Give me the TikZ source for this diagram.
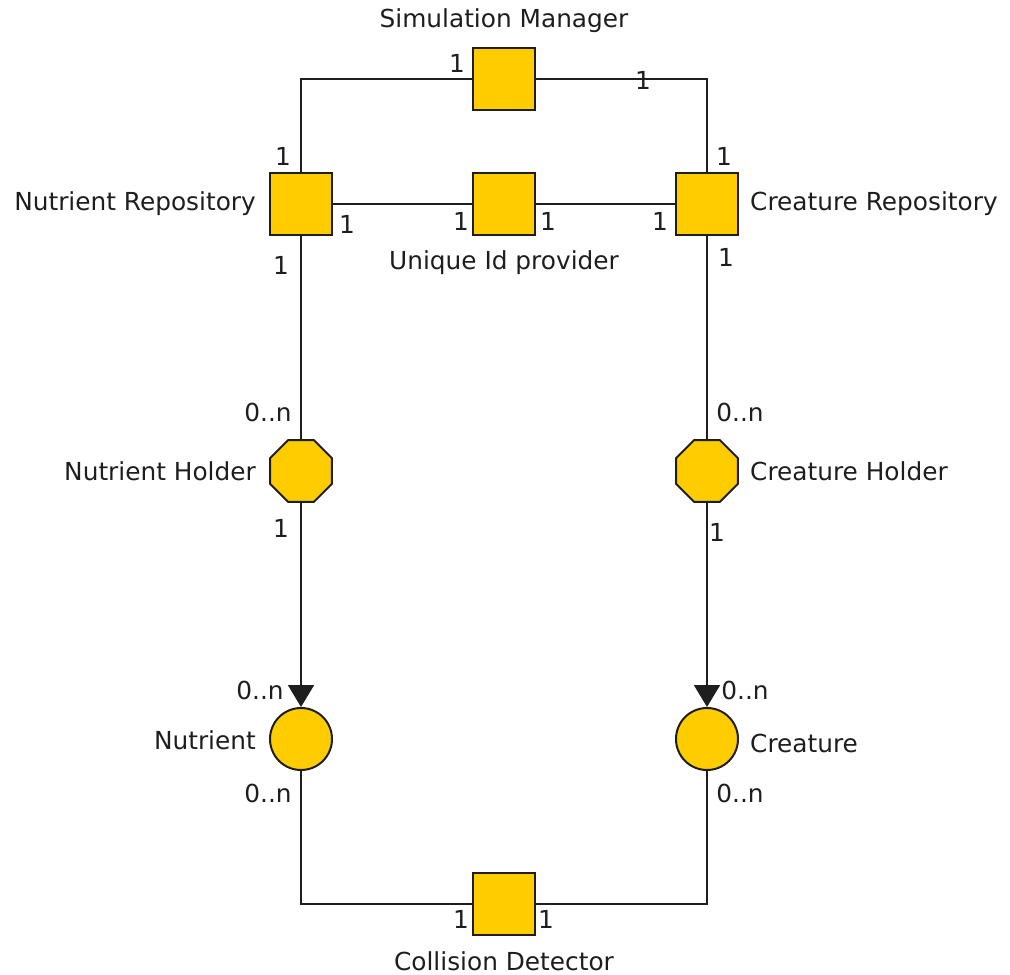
\documentclass[tikz,border=0pt]{standalone}
\usepackage{fontspec}
\setmainfont{DejaVu Sans}
\usetikzlibrary{shapes.geometric,arrows.meta}
\definecolor{gold}{RGB}{255,204,0}
\definecolor{ink}{RGB}{30,30,30}
\begin{document}
\begin{tikzpicture}[x=1pt,y=-1pt,
  every node/.style={font=\fontsize{24.8}{29}\selectfont, text=ink, inner sep=0pt},
  sq/.style={draw=ink, fill=gold, line width=2pt, minimum size=62pt, rectangle},
  octo/.style={draw=ink, fill=gold, line width=2pt, regular polygon, regular polygon sides=8, minimum size=67pt},
  circ/.style={draw=ink, fill=gold, line width=2pt, circle, minimum size=62pt},
  conn/.style={draw=ink, line width=2pt},
  arr/.style={conn, -{Triangle[width=26pt,length=22pt]}}
]
\useasboundingbox (0,0) rectangle (1010,975);
% nodes
\node[sq] (SM) at (504,79) {};
\node[sq] (NR) at (301,204) {};
\node[sq] (UID) at (504,204) {};
\node[sq] (CR) at (707,204) {};
\node[octo] (NH) at (301,471) {};
\node[octo] (CH) at (707,471) {};
\node[circ] (N) at (301,739) {};
\node[circ] (C) at (707,739) {};
\node[sq] (CD) at (504,904) {};
% connectors
\draw[conn] (SM.west) -| (NR.north);
\draw[conn] (SM.east) -| (CR.north);
\draw[conn] (NR.east) -- (UID.west);
\draw[conn] (UID.east) -- (CR.west);
\draw[conn] (NR.south) -- (NH.north);
\draw[conn] (CR.south) -- (CH.north);
\draw[arr] (NH.south) -- (N.north);
\draw[arr] (CH.south) -- (C.north);
\draw[conn] (N.south) |- (CD.west);
\draw[conn] (C.south) |- (CD.east);
% names
\node (tSM) at (504,21) {Simulation Manager};
\node[anchor=east] (tNR) at (256,204) {Nutrient Repository};
\node (tUID) at (504,263) {Unique Id provider};
\node[anchor=west] (tCR) at (750,204) {Creature Repository};
\node[anchor=east] (tNH) at (256,471) {Nutrient Holder};
\node[anchor=west] (tCH) at (750,471) {Creature Holder};
\node[anchor=east] (tN) at (256,740) {Nutrient};
\node[anchor=west] (tC) at (750,743) {Creature};
\node (tCD) at (504,961) {Collision Detector};
% multiplicities
\node (m1) at (457,63) {1};
\node (m2) at (643,80) {1};
\node (m3) at (283,156) {1};
\node (m4) at (347,224) {1};
\node (m5) at (281,265) {1};
\node (m6) at (461,221) {1};
\node (m7) at (548,221) {1};
\node (m8) at (660,221) {1};
\node (m9) at (724,156) {1};
\node (m10) at (726,257) {1};
\node (m11) at (268,412) {0..n};
\node (m12) at (281,528) {1};
\node (m13) at (740,412) {0..n};
\node (m14) at (717,532) {1};
\node (m15) at (260,690) {0..n};
\node (m16) at (745,690) {0..n};
\node (m17) at (268,793) {0..n};
\node (m18) at (740,793) {0..n};
\node (m19) at (461,919) {1};
\node (m20) at (546,919) {1};
\end{tikzpicture}
\end{document}
